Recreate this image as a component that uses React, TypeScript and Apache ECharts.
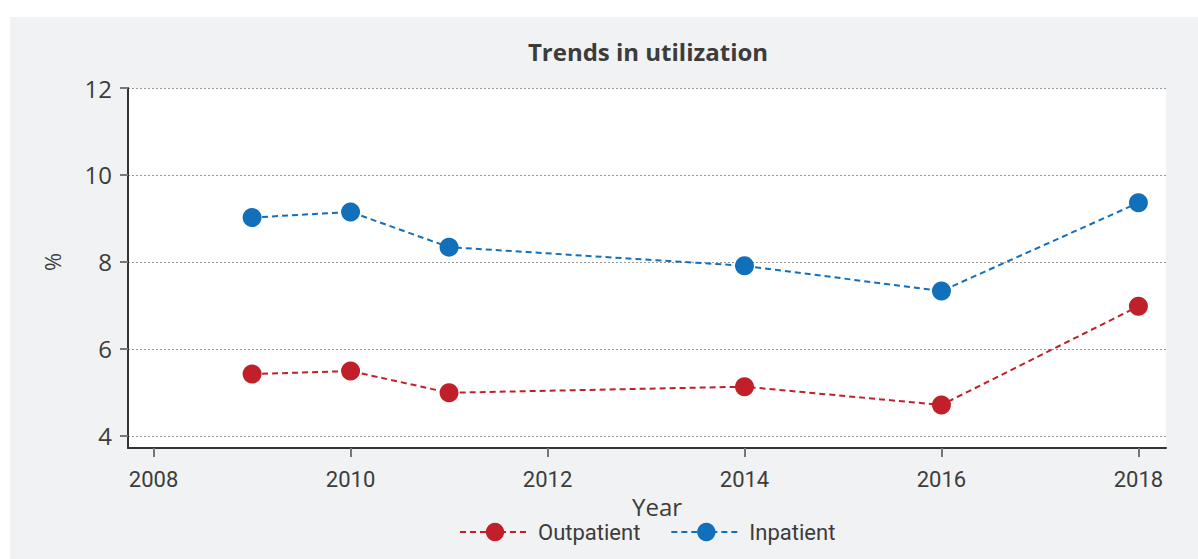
import React, { useEffect, useRef } from "react";
import * as echarts from "echarts";

const years = [2009, 2010, 2011, 2014, 2016, 2018];
const outpatient = [5.42, 5.49, 4.99, 5.13, 4.71, 6.98];
const inpatient = [9.02, 9.15, 8.34, 7.91, 7.33, 9.36];
const xTicks = [2008, 2010, 2012, 2014, 2016, 2018];
const yTicks = [4, 6, 8, 10, 12];

const RED = "#c1202a";
const BLUE = "#1170b9";
const TEXT = "#3c3c3c";
const NARROW = "Roboto, sans-serif";
const SANS = "'Open Sans', 'Noto Sans', sans-serif";

export default function App() {
  const ref = useRef<HTMLDivElement>(null);
  useEffect(() => {
    if (!ref.current) return;
    const chart = echarts.init(ref.current, undefined, { renderer: "svg" });
    const mk = (name: string, vals: number[], color: string) => ({
      name,
      type: "line",
      data: years.map((y, i) => [y, vals[i]]),
      symbol: "circle",
      symbolSize: 19,
      itemStyle: { color, borderWidth: 0 },
      lineStyle: { color, width: 2, type: [6, 4] },
      emphasis: { disabled: true },
    });
    chart.setOption({
      animation: false,
      backgroundColor: "#f1f2f4",
      title: {
        text: "Trends in utilization",
        left: 633,
        textAlign: "center",
        top: 17,
        textStyle: { fontFamily: SANS, fontSize: 24, fontWeight: "bold", color: TEXT },
      },
      legend: {
        left: 449,
        top: 504,
        padding: 0,
        itemWidth: 70,
        itemHeight: 23,
        itemGap: 30,
        textStyle: { fontFamily: NARROW, fontSize: 22, color: TEXT, padding: [0, 0, 0, 3] },
        data: ["Outpatient", "Inpatient"],
      },
      grid: {
        left: 118,
        right: 32,
        top: 71,
        bottom: 111,
        show: true,
        backgroundColor: "#ffffff",
        borderWidth: 0,
      },
      xAxis: {
        type: "value",
        min: 2007.74,
        max: 2018.28,
        name: "Year",
        nameLocation: "middle",
        nameGap: 44,
        nameTextStyle: { fontFamily: SANS, fontSize: 24, color: TEXT, padding: [0, 0, 0, 20] },
        axisLine: { lineStyle: { color: "#333", width: 2 } },
        axisTick: { customValues: xTicks, length: 9, lineStyle: { color: "#777", width: 2 } },
        axisLabel: {
          customValues: xTicks,
          margin: 20,
          fontFamily: NARROW,
          fontSize: 22,
          color: TEXT,
          formatter: (v: number) => String(v),
        },
        splitLine: { show: false },
      },
      yAxis: {
        type: "value",
        min: 3.72,
        max: 12,
        name: "%",
        nameLocation: "middle",
        nameGap: 65,
        nameTextStyle: { fontFamily: SANS, fontSize: 22, color: TEXT, padding: [0, 0, 0, 12] },
        axisLine: { show: true, lineStyle: { color: "#333", width: 2 } },
        axisTick: { show: true, customValues: yTicks, length: 8, lineStyle: { color: "#777", width: 2 } },
        axisLabel: {
          customValues: yTicks,
          margin: 16,
          fontFamily: SANS,
          fontSize: 24,
          color: TEXT,
        },
        splitLine: { show: true, lineStyle: { color: "#999", width: 1, type: [2, 2] } },
      },
      series: [mk("Outpatient", outpatient, RED), mk("Inpatient", inpatient, BLUE)],
    });
    return () => chart.dispose();
  }, []);
  return (
    <div style={{ position: "absolute", left: 0, top: 0, width: 1198, height: 559, background: "#fff" }}>
      <div ref={ref} style={{ position: "absolute", left: 10, top: 17, width: 1188, height: 542 }} />
    </div>
  );
}
